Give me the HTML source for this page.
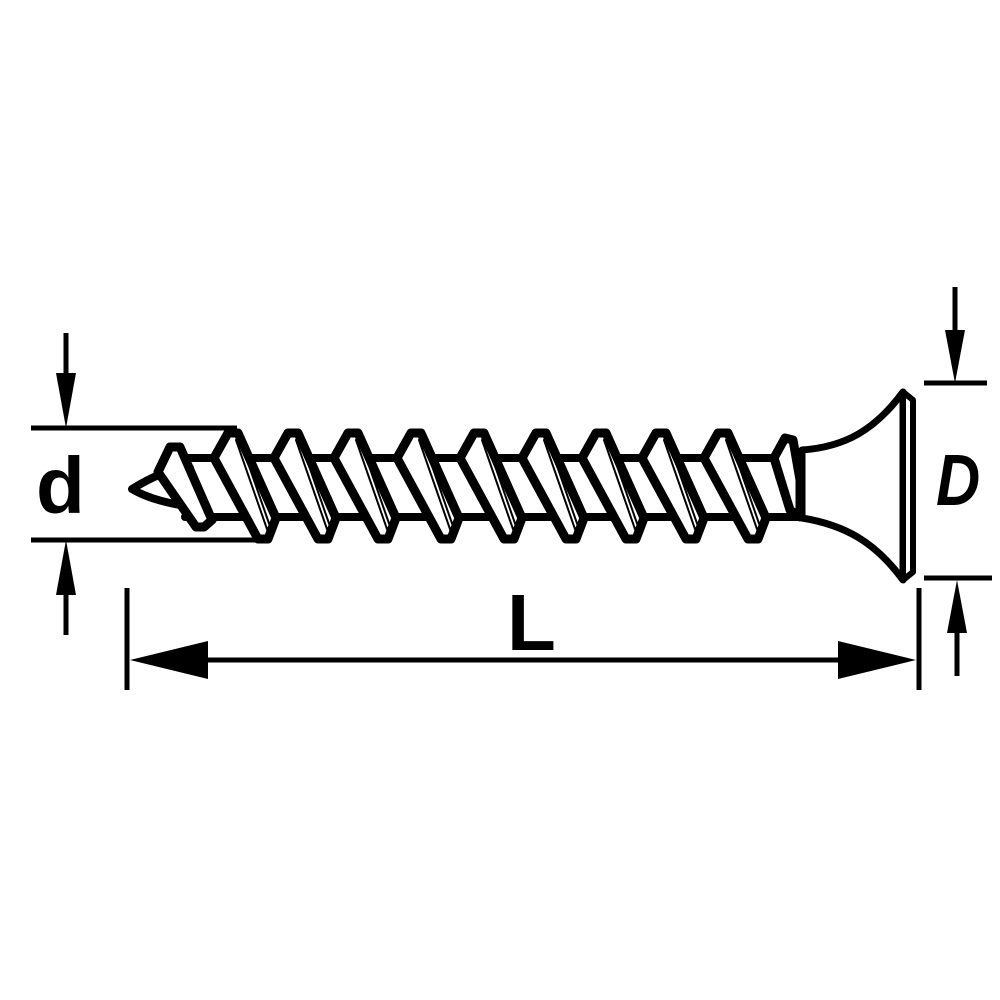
<!DOCTYPE html>
<html><head><meta charset="utf-8"><style>html,body{margin:0;padding:0;background:#fff}svg{display:block}</style></head>
<body>
<svg width="1000" height="1000" viewBox="0 0 1000 1000" xmlns="http://www.w3.org/2000/svg">
<rect width="1000" height="1000" fill="#fff"/>
<g stroke="#000" fill="none" stroke-linejoin="round" stroke-linecap="round">
  <path d="M185,458 L805,458 M185,517 L805,517" stroke-width="8"/>
  <path d="M190,468 C170,468 150,478 132,489 C150,500 175,505 200,508" stroke-width="8" fill="#fff"/>
  <g stroke-width="9" fill="#fff">
    <polygon points="158,472 170,447 180,447 212,520 204,527 196,527"/>
    <polygon points="214,458 228,433 238,433 276,518 268,539 258,539"/>
    <polygon points="274,458 288,433 298,433 336,518 328,539 318,539"/>
    <polygon points="334,458 348,433 358,433 396,518 388,539 378,539"/>
    <polygon points="397,458 411,433 421,433 459,518 451,539 441,539"/>
    <polygon points="460,458 474,433 484,433 522,518 514,539 504,539"/>
    <polygon points="522,458 536,433 546,433 584,518 576,539 566,539"/>
    <polygon points="582,458 596,433 606,433 644,518 636,539 626,539"/>
    <polygon points="642,458 656,433 666,433 704,518 696,539 686,539"/>
    <polygon points="704,458 718,433 728,433 766,518 758,539 748,539"/>
    <polygon points="774,458 785,438 793,440 800,480 800,517 790,510"/>
  </g>
  <g stroke-width="2">
    <path d="M236,440 L268,532 M240,440 L272,532"/>
    <path d="M296,440 L328,532 M300,440 L332,532"/>
    <path d="M356,440 L388,532 M360,440 L392,532"/>
    <path d="M419,440 L451,532 M423,440 L455,532"/>
    <path d="M482,440 L514,532 M486,440 L518,532"/>
    <path d="M544,440 L576,532 M548,440 L580,532"/>
    <path d="M604,440 L636,532 M608,440 L640,532"/>
    <path d="M664,440 L696,532 M668,440 L700,532"/>
    <path d="M726,440 L758,532 M730,440 L762,532"/>
  </g>
  <path d="M802,450 C845,447 875,430 903,392 L903,580 C875,542 845,525 802,518 Z" stroke-width="7" fill="#fff"/>
  <polygon points="903,392 913,400 913,572 903,580" stroke-width="6" fill="#fff"/>
  <path d="M31,428 L237,428 M31,540 L270,540 M66,333 L66,380 M66,590 L66,635" stroke-width="5" stroke-linecap="butt"/>
  <path d="M924,383 L987,383 M924,578 L992,578 M955,287 L955,335 M957,628 L957,676" stroke-width="5" stroke-linecap="butt"/>
  <path d="M200,660 L850,660 M127,588 L127,690 M919,588 L919,690" stroke-width="5" stroke-linecap="butt"/>
</g>
<g fill="#000">
  <polygon points="56,373 76,373 66,428"/>
  <polygon points="56,595 76,595 66,540"/>
  <polygon points="945,330 965,330 955,383"/>
  <polygon points="947,633 967,633 957,580"/>
  <polygon points="130,660 208,641 208,679"/>
  <polygon points="916,660 838,641 838,679"/>
</g>
<g font-family="Liberation Sans, sans-serif" font-weight="bold" fill="#000">
  <text x="36" y="513" font-size="80">d</text>
  <text x="507" y="650" font-size="80">L</text>
  <text x="936" y="505" font-size="72" font-style="italic" transform="translate(936 0) scale(0.85 1) translate(-936 0)">D</text>
</g>
</svg>
</body></html>
